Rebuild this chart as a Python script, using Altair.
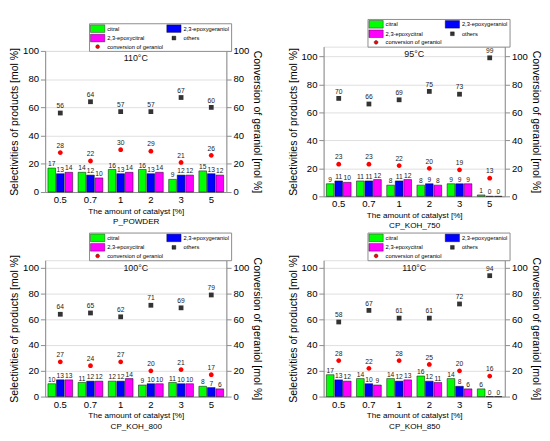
import altair as alt
import pandas as pd

cats = ["0.5", "0.7", "1", "2", "3", "5"]
bar_series = ["citral", "2,3-epoxygeraniol", "2,3-epoxycitral"]
# legend is filled column by column: citral / 2,3-epoxycitral / conversion, then 2,3-epoxygeraniol / others
legend_series = ["citral", "2,3-epoxycitral", "conversion of geraniol", "2,3-epoxygeraniol", "others"]
legend_colors = ["#00ff00", "#ff00ff", "#ff0000", "#0000ff", "#333333"]

# P_POWDER, 110 C
p1_citral = [17, 14, 16, 16, 9, 15]
p1_epoxyger = [13, 12, 13, 13, 12, 13]
p1_epoxycit = [14, 10, 14, 14, 12, 12]
p1_others = [56, 64, 57, 57, 67, 60]
p1_conv = [28, 22, 30, 29, 21, 26]

# CP_KOH_750, 95 C
p2_citral = [9, 11, 8, 8, 9, 1]
p2_epoxyger = [11, 11, 11, 9, 9, 0]
p2_epoxycit = [10, 12, 12, 8, 9, 0]
p2_others = [70, 66, 69, 75, 73, 99]
p2_conv = [23, 23, 22, 20, 19, 13]

# CP_KOH_800, 100 C
p3_citral = [10, 11, 12, 9, 11, 8]
p3_epoxyger = [13, 12, 12, 10, 10, 7]
p3_epoxycit = [13, 12, 14, 10, 10, 6]
p3_others = [64, 65, 62, 71, 69, 79]
p3_conv = [27, 24, 27, 20, 21, 17]

# CP_KOH_850, 110 C
p4_citral = [17, 14, 14, 16, 14, 6]
p4_epoxyger = [13, 10, 12, 12, 8, 0]
p4_epoxycit = [12, 9, 13, 11, 6, 0]
p4_others = [58, 67, 61, 61, 72, 94]
p4_conv = [28, 22, 28, 25, 20, 16]

FONT = "Liberation Sans"
RECT = "M-2.14,-1.14H2.14V1.14H-2.14Z"
SQ = "M-0.57,-0.57H0.57V0.57H-0.57Z"
CIRC = "M0.57,0A0.57,0.57 0 1,1 -0.57,0A0.57,0.57 0 1,1 0.57,0Z"
legend_shapes = [RECT, RECT, CIRC, RECT, SQ]


def panel(name, temp, citral, epoxyger, epoxycit, others, conv, ymax, W, H, lx, ly):
    bars = pd.DataFrame({
        "cat": cats * 3,
        "series": [s for s in bar_series for _ in cats],
        "value": citral + epoxyger + epoxycit,
    })
    oth = pd.DataFrame({"cat": cats, "series": "others", "value": others})
    cnv = pd.DataFrame({"cat": cats, "series": "conversion of geraniol", "value": conv})
    ttl = pd.DataFrame({"t": [temp]})

    xenc = alt.X("cat:N", sort=cats,
                 scale=alt.Scale(paddingInner=0.18, paddingOuter=0.09),
                 axis=alt.Axis(title=["The amount of catalyst [%]", name], labelAngle=0,
                               titleFontSize=8.5, titleLineHeight=11, titlePadding=2,
                               titleFontWeight="normal", ticks=False, labelPadding=3))
    xo = alt.XOffset("series:N", sort=bar_series,
                     scale=alt.Scale(domain=bar_series, paddingInner=0.1))
    ysc = alt.Scale(domain=[0, ymax], nice=False)
    yvals = [0, 20, 40, 60, 80, 100]
    leg = alt.Legend(title=None, orient="none", legendX=lx, legendY=ly, columns=2,
                     labelFontSize=6, symbolSize=49, rowPadding=0, columnPadding=2,
                     padding=1.5, offset=0, strokeColor="#888888", fillColor="white",
                     labelLimit=0, labelOffset=6, symbolOffset=3.5, symbolStrokeColor="black",
                     symbolStrokeWidth=0.4)
    col = alt.Color("series:N", scale=alt.Scale(domain=legend_series, range=legend_colors),
                    legend=leg)
    shp = alt.Shape("series:N", scale=alt.Scale(domain=legend_series, range=legend_shapes),
                    legend=leg)

    bar = alt.Chart(bars).mark_bar(stroke="black", strokeWidth=0.5).encode(
        x=xenc, xOffset=xo,
        y=alt.Y("value:Q", scale=ysc,
                axis=alt.Axis(title="Selectivities of products [mol %]", values=yvals,
                              orient="left", titleFontWeight="normal", titlePadding=3)),
        color=col,
    )
    bar_txt = alt.Chart(bars).mark_text(dy=-4, fontSize=7, color="#222222", font=FONT).encode(
        x=xenc, xOffset=xo,
        y=alt.Y("value:Q", scale=ysc, axis=None),
        text="value:Q",
    )
    oth_pt = alt.Chart(oth).mark_point(filled=True, size=77, opacity=1).encode(
        x=xenc, y=alt.Y("value:Q", scale=ysc, axis=None), color=col, shape=shp,
    )
    oth_txt = alt.Chart(oth).mark_text(dy=-7, fontSize=7, color="#222222", font=FONT).encode(
        x=xenc, y=alt.Y("value:Q", scale=ysc, axis=None), text="value:Q",
    )
    cnv_pt = alt.Chart(cnv).mark_point(filled=True, size=77, opacity=1).encode(
        x=xenc,
        y=alt.Y("value:Q", scale=ysc,
                axis=alt.Axis(title="Conversion of geraniol [mol %]", values=yvals,
                              orient="right", titleFontWeight="normal", titlePadding=3)),
        color=col, shape=shp,
    )
    cnv_txt = alt.Chart(cnv).mark_text(dy=-7, fontSize=7, color="#222222", font=FONT).encode(
        x=xenc, y=alt.Y("value:Q", scale=ysc, axis=None), text="value:Q",
    )
    t = alt.Chart(ttl).mark_text(fontSize=9.3, color="#111111", font=FONT, baseline="top").encode(
        x=alt.value(W / 2), y=alt.value(4), text="t:N",
    )
    return alt.layer(bar, bar_txt, oth_pt, oth_txt, cnv_pt, cnv_txt, t).resolve_scale(
        y="independent"
    ).properties(width=W, height=H)


W = 190
LX = 46
LY = -29
c1 = panel("P_POWDER", "110°C", p1_citral, p1_epoxyger, p1_epoxycit, p1_others, p1_conv,
           100, W, 148, LX, LY)
c2 = panel("CP_KOH_750", "95°C", p2_citral, p2_epoxyger, p2_epoxycit, p2_others, p2_conv,
           107, W, 157, LX, LY)
c3 = panel("CP_KOH_800", "100°C", p3_citral, p3_epoxyger, p3_epoxycit, p3_others, p3_conv,
           106, W, 143, LX, LY)
c4 = panel("CP_KOH_850", "110°C", p4_citral, p4_epoxyger, p4_epoxycit, p4_others, p4_conv,
           106, W, 143, LX, LY)

row1 = alt.hconcat(c1, c2, spacing=24, center=True).resolve_scale(
    color="independent", shape="independent").resolve_legend(
    color="independent", shape="independent")
row2 = alt.hconcat(c3, c4, spacing=24).resolve_scale(
    color="independent", shape="independent").resolve_legend(
    color="independent", shape="independent")

chart = alt.vconcat(row1, row2, spacing=2).resolve_scale(
    color="independent", shape="independent").resolve_legend(
    color="independent", shape="independent"
).configure_view(
    stroke="black", strokeWidth=1
).configure_axis(
    grid=False, domainColor="black", tickColor="black", labelColor="#222222",
    titleColor="#222222", labelFontSize=7.5, titleFontSize=9.5, titleFontWeight="normal",
    labelFont=FONT, titleFont=FONT, tickSize=3, labelPadding=2,
).configure_legend(
    labelFont=FONT, labelColor="#222222"
).configure(background="white", padding=0)

chart.save("out.html", embed_options={"renderer": "svg", "actions": False})
